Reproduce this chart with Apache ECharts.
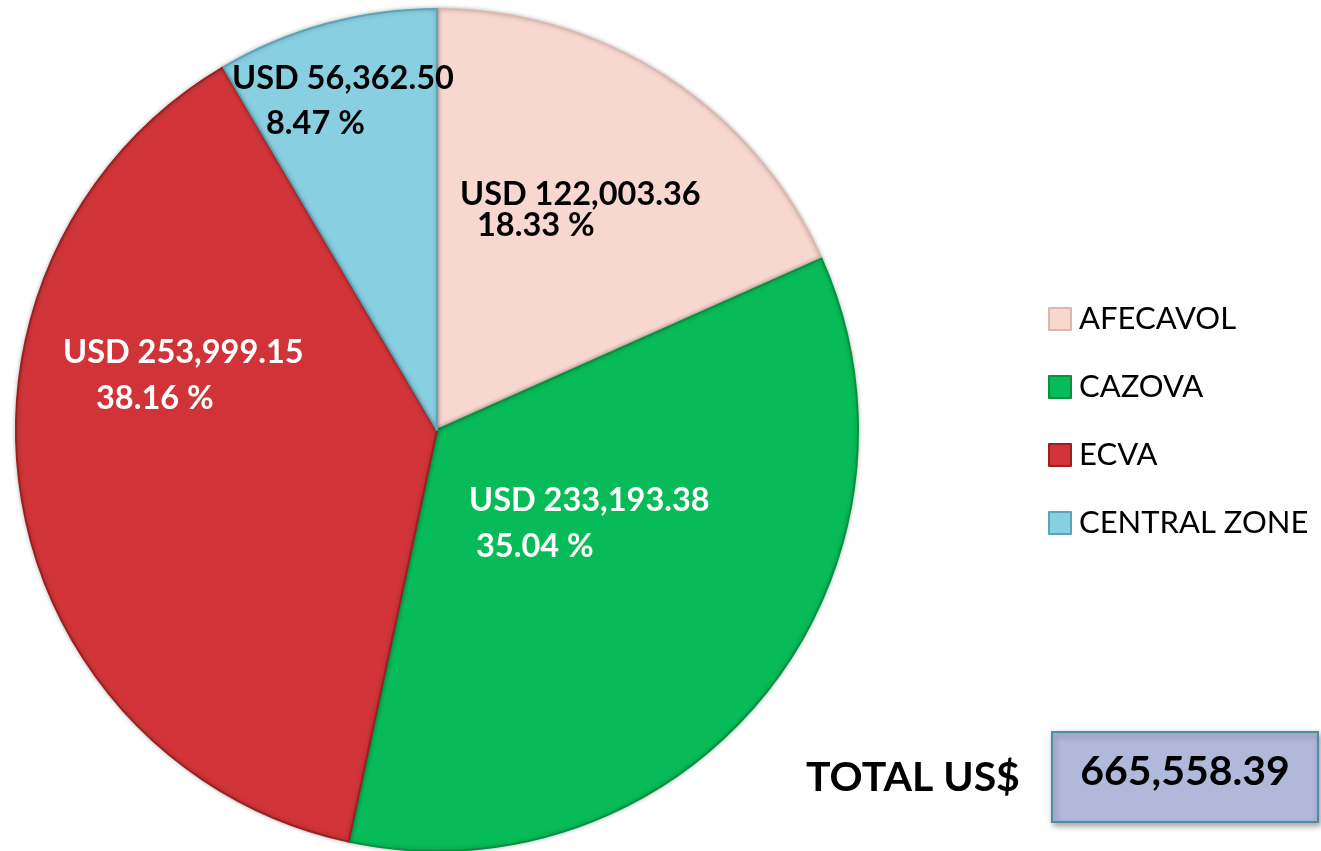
<!DOCTYPE html>
<html>
<head>
<meta charset="utf-8">
<script src="https://cdn.jsdelivr.net/npm/echarts@6/dist/echarts.min.js"></script>
<style>
html,body{margin:0;padding:0;background:#fff;}
#main{width:1321px;height:851px;}
</style>
</head>
<body>
<div id="main"></div>
<script>
// data
var names = ['AFECAVOL', 'CAZOVA', 'ECVA', 'CENTRAL ZONE'];
var values = [122003.36, 233193.38, 253999.15, 56362.50];
var totalText = '665,558.39';

var colors = ['#f8d7cf', '#07bb58', '#d03438', '#88cfe1'];
var borders = ['#dcb8b0', '#05913f', '#9c1f22', '#5aa5b8'];
var labelColors = ['#000', '#fff', '#fff', '#000'];
// label layout: left x, middle y, line height, 2nd line indent
var labelPos = [
	[460, 210, 31, 17],
	[469, 524, 46, 7],
	[63, 376, 46, 33],
	[232, 101, 45, 34]
];

function fmt(v){
	return v.toLocaleString('en-US', {minimumFractionDigits: 2, maximumFractionDigits: 2});
}

var pieData = [];
for (var i = 0; i < names.length; i++) {
	pieData.push({
		name: names[i],
		value: values[i],
		itemStyle: {color: colors[i], borderColor: borders[i]},
		label: {
			color: labelColors[i],
			rich: {
				a: {fontSize: 32.5, fontWeight: 'bold', fontFamily: 'Lato', color: labelColors[i], lineHeight: labelPos[i][2]},
				b: {fontSize: 32.5, fontWeight: 'bold', fontFamily: 'Lato', color: labelColors[i], lineHeight: labelPos[i][2], padding: [0, 0, 0, labelPos[i][3]]}
			}
		}
	});
}

var myChart = echarts.init(document.getElementById('main'));
var option = {
	backgroundColor: '#fff',
	animation: false,
	color: colors,
	legend: {
		orient: 'vertical',
		left: 1043,
		top: 298,
		itemWidth: 22,
		itemHeight: 22,
		itemGap: 36,
		icon: 'rect',
		data: names,
		textStyle: {fontFamily: 'Lato', fontSize: 31, color: '#000', lineHeight: 32, padding: [0, 0, 0, 3]}
	},
	series: [{
		type: 'pie',
		center: [437, 430],
		radius: 421,
		startAngle: 90,
		clockwise: true,
		data: pieData,
		itemStyle: {borderWidth: 2, shadowColor: 'rgba(0,0,0,0.25)', shadowBlur: 4},
		emphasis: {disabled: true},
		label: {
			show: true,
			position: 'inside',
			align: 'left',
			formatter: function(p){
				return '{a|USD ' + fmt(p.value) + '}\n{b|' + p.percent.toFixed(2) + ' %}';
			}
		},
		percentPrecision: 2,
		labelLayout: function(params){
			var lp = labelPos[params.dataIndex];
			return {x: lp[0], y: lp[1], align: 'left', verticalAlign: 'middle'};
		}
	}],
	graphic: [
		{
			type: 'rect',
			shape: {x: 1052, y: 732, width: 266, height: 90},
			style: {fill: '#b0b9d9', stroke: '#4b8ea2', lineWidth: 2, shadowBlur: 6, shadowOffsetX: 2, shadowOffsetY: 3, shadowColor: 'rgba(0,0,0,0.35)'}
		},
		{
			type: 'text',
			x: 1185, y: 772,
			style: {text: totalText, font: 'bold 41px Lato', fill: '#000', textAlign: 'center', textVerticalAlign: 'middle'}
		},
		{
			type: 'text',
			x: 806, y: 778,
			style: {text: 'TOTAL US$', font: 'bold 41px Lato', fill: '#000', textAlign: 'left', textVerticalAlign: 'middle'}
		}
	]
};
myChart.setOption(option);
window.onresize = function(){
	myChart.resize();
};
</script>
</body>
</html>
